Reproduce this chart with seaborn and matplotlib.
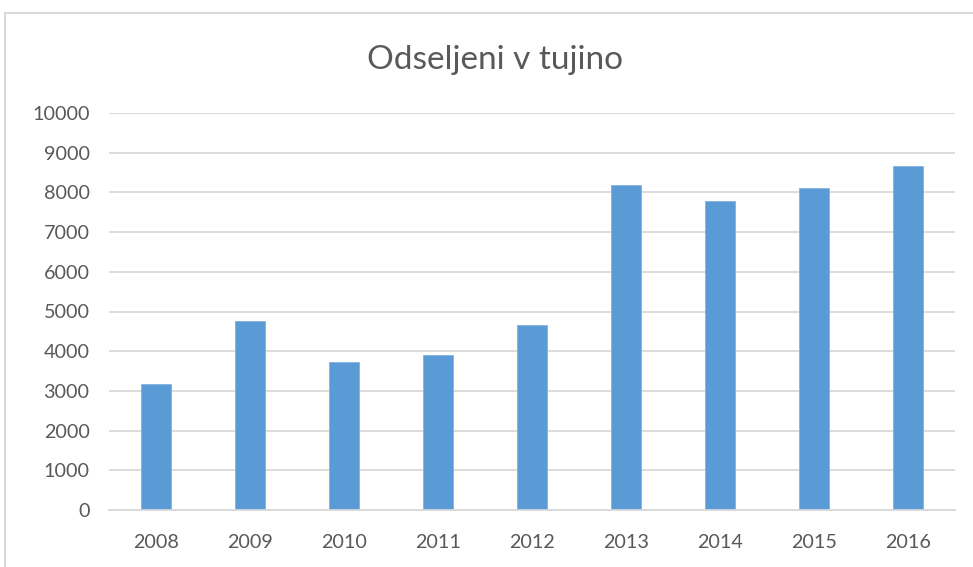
import matplotlib
matplotlib.use("Agg")
import matplotlib.pyplot as plt
import seaborn as sns
import pandas as pd
from matplotlib.patches import Rectangle

years = ["2008", "2009", "2010", "2011", "2012", "2013", "2014", "2015", "2016"]
odseljeni = [3180, 4760, 3730, 3910, 4670, 8190, 7780, 8100, 8670]
y_ticks = [0, 1000, 2000, 3000, 4000, 5000, 6000, 7000, 8000, 9000, 10000]

df = pd.DataFrame({"leto": years, "odseljeni": odseljeni})

sns.set_style("white")
plt.rcParams['font.family'] = ['Lato', 'DejaVu Sans']

text_col = "#595959"
grid_col = "#D9D9D9"
bar_col = "#5B9BD5"

fig = plt.figure(figsize=(9.73, 5.67), dpi=100)
ax = fig.add_axes([109 / 973, 1 - 510 / 567, (955 - 109) / 973, (510 - 113) / 567])

sns.barplot(data=df, x="leto", y="odseljeni", color=bar_col, width=0.314,
            saturation=1, ax=ax, edgecolor="#7FB2E0", linewidth=0.6)

ax.set_ylim(0, 10000)
ax.set_xlim(-0.5, len(years) - 0.5)
ax.set_yticks(y_ticks)
ax.set_yticklabels([str(v) for v in y_ticks])
ax.yaxis.grid(True, color=grid_col, linewidth=1.3)
ax.set_axisbelow(True)
for s in ["top", "right", "left"]:
    ax.spines[s].set_visible(False)
ax.spines["bottom"].set_color(grid_col)
ax.spines["bottom"].set_linewidth(1.3)
ax.tick_params(axis="y", length=0, pad=14, labelsize=14.2, labelcolor=text_col)
ax.tick_params(axis="x", length=0, pad=17, labelsize=14.2, labelcolor=text_col)
ax.set_xlabel("")
ax.set_ylabel("")

fig.text(495 / 973, 1 - 60 / 567, "Odseljeni v tujino", ha="center", va="center",
         fontsize=24, color=text_col)

# chart area frame
fig.patches.append(Rectangle((5 / 973, -0.05), 1.05, 1 - 13 / 567 + 0.05,
                             transform=fig.transFigure, fill=False,
                             edgecolor=grid_col, linewidth=1.5))

fig.savefig("out.png", dpi=100)
